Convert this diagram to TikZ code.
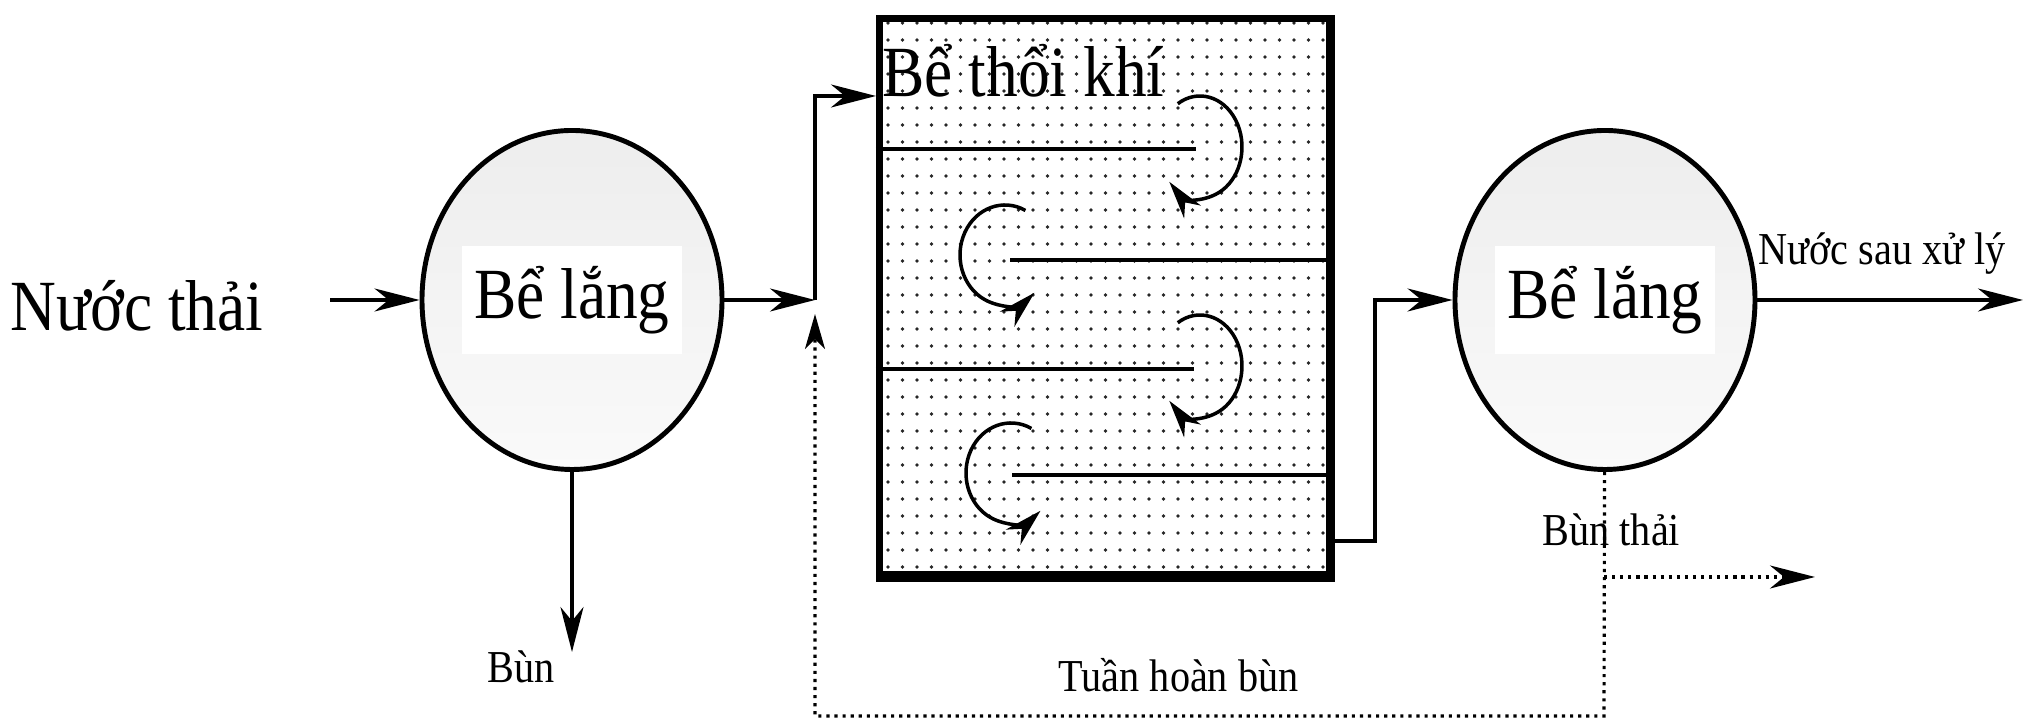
\documentclass[tikz,border=0pt]{standalone}
\usepackage{fontspec}
\setmainfont{Liberation Serif}[FakeStretch=0.88]
\usepackage{tikz}
\usetikzlibrary{shapes.geometric,arrows.meta}

\newcommand{\bigtxt}{\fontsize{20.5}{24}\selectfont}
\newcommand{\smtxt}{\fontsize{13}{15}\selectfont}

\tikzset{
	tank/.style={draw, ellipse, line width=1.4pt, top color=gray!14, bottom color=gray!4, minimum width=3cm, minimum height=3.39cm},
	tag/.style={fill=white, minimum width=2.2cm, minimum height=1.08cm, inner sep=0pt, font=\bigtxt},
	flow/.style={line width=0.9pt, -{Stealth[length=0.45cm, width=0.23cm, inset=0.14cm]}},
	pipe/.style={line width=0.9pt},
	recyc/.style={line width=0.9pt, dash pattern=on 0.9pt off 1.4pt},
	curl/.style={line width=1pt, -{Stealth[length=0.38cm, width=0.21cm, inset=0.12cm]}},
	lbl/.style={anchor=base west, inner sep=0pt, font=\smtxt}
}

\begin{document}
\begin{tikzpicture}
			\useasboundingbox (0,0) rectangle (20.28,7.19);

			% aeration tank: dotted fill, thick walls
			\foreach \i in {0,...,30}
				\foreach \j in {0,...,32}
					\fill[black!85] (8.88+\i*0.145, 1.52+\j*0.17) circle (0.019);
			\node[draw, line width=2pt, minimum width=4.52cm, minimum height=5.6cm] (aero) at (11.055,4.205) {};
			\fill (aero.south west) rectangle ([yshift=0.11cm]aero.south east);
			\fill (aero.south east) rectangle ([xshift=-0.095cm]aero.north east);
			\node[anchor=base west, inner sep=0pt, font=\bigtxt] (aerotxt) at (8.82,6.22) {Bể thổi khí};

			% baffles
			\coordinate (b1) at (11.96,5.70);
			\coordinate (b2) at (10.10,4.59);
			\coordinate (b3) at (11.94,3.50);
			\coordinate (b4) at (10.12,2.44);
			\draw[pipe] (b1 -| aero.west) -- (b1);
			\draw[pipe] (b2) -- (b2 -| aero.east);
			\draw[pipe] (b3 -| aero.west) -- (b3);
			\draw[pipe] (b4) -- (b4 -| aero.east);

			% swirls round the baffle ends
			\coordinate (c1) at (12.00,5.72);
			\coordinate (c2) at (10.05,4.64);
			\coordinate (c3) at (12.00,3.53);
			\coordinate (c4) at (10.11,2.46);
			\draw[curl] (c1) ++(122:0.42 and 0.51) arc[start angle=122, end angle=-137, x radius=0.42, y radius=0.51];
			\draw[curl] (c3) ++(122:0.42 and 0.51) arc[start angle=122, end angle=-137, x radius=0.42, y radius=0.51];
			\draw[curl] (c2) ++(63:0.45 and 0.50) arc[start angle=63, end angle=311, x radius=0.45, y radius=0.50];
			\draw[curl] (c4) ++(63:0.45 and 0.50) arc[start angle=63, end angle=311, x radius=0.45, y radius=0.50];

			% settling tanks
			\node[tank] (lang1) at (5.72,4.19) {};
			\node[tag] (tag1) at (lang1) {Bể lắng};
			\node[tank] (lang2) at (16.05,4.19) {};
			\node[tag] (tag2) at (lang2) {Bể lắng};

			% labels
			\node[anchor=base west, inner sep=0pt, font=\bigtxt] (nuoc) at (0.10,3.88) {Nước thải};
			\node[lbl] (bun) at (4.87,0.36) {Bùn};
			\node[lbl] (sau) at (17.58,4.54) {Nước sau xử lý};
			\node[lbl] (bunthai) at (15.42,1.73) {Bùn thải};
			\node[lbl] (tuan) at (10.58,0.27) {Tuần hoàn bùn};

			\coordinate (in) at (3.30,4.19);
			\coordinate (j1) at (8.15,4.19);
			\coordinate (j2) at (8.15,6.23);
			\coordinate (j3) at (13.75,1.78);
			\coordinate (out) at (20.23,4.19);
			\coordinate (sludge) at (5.72,0.67);
			\coordinate (r1) at (16.04,0.03);
			\coordinate (r2) at (8.15,0.03);
			\coordinate (r3) at (8.15,4.05);
			\coordinate (w1) at (16.04,1.42);
			\coordinate (w2) at (18.15,1.42);

			\draw[flow] (in) -- (lang1);
			\draw[flow] (lang1) -- (j1);
			\draw[flow] (lang1) -- (sludge);
			\draw[flow] (j1) -- (j2) -- (j2 -| aero.west);
			\draw[flow] (j3 -| aero.east) -- (j3) |- (lang2);
			\draw[flow] (lang2) -- (out);

			\draw[recyc, -{Stealth[length=0.35cm, width=0.2cm, inset=0.1cm]}] (lang2) -- (r1) -- (r2) -- (r3);
			\draw[recyc, -{Stealth[length=0.45cm, width=0.23cm, inset=0.14cm]}] (w1) -- (w2);
		\end{tikzpicture}
\end{document}
